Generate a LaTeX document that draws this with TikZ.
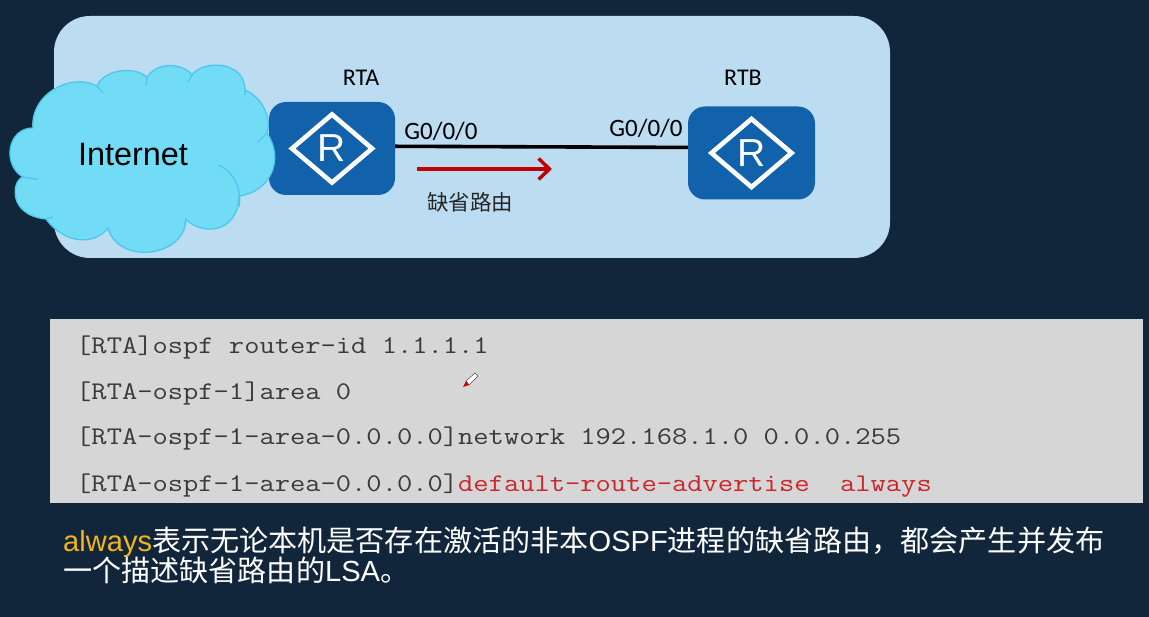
\documentclass[tikz,border=0pt]{standalone}
\usepackage{fontspec}
\setmainfont{Liberation Sans}
\newfontfamily\codefont[FakeStretch=1.168]{Latin Modern Mono}
\newfontfamily\cjk{Noto Sans CJK SC}
\newfontfamily\carlito{Carlito}
\usetikzlibrary{arrows.meta,positioning,shapes.geometric}
\definecolor{bgnavy}{HTML}{12263B}
\definecolor{panelblue}{HTML}{BBDCF1}
\definecolor{routerblue}{HTML}{1162AB}
\definecolor{cloudfill}{HTML}{72DCF6}
\definecolor{cloudline}{HTML}{4CC8EC}
\definecolor{codegray}{HTML}{D6D6D6}
\definecolor{codetext}{HTML}{3A3A3A}
\definecolor{codered}{HTML}{C9252B}
\definecolor{arrowred}{HTML}{C00000}
\definecolor{alwaysorange}{HTML}{F2B41B}
\tikzset{
  routerbox/.style={draw=none,fill=routerblue,rounded corners=17pt,minimum width=126pt,minimum height=93pt,inner sep=0pt},
  routermark/.style={diamond,draw=white,line width=4.6pt,minimum width=82pt,minimum height=70pt,inner sep=0pt,text=white,font=\fontsize{39}{39}\selectfont},
  devlabel/.style={inner sep=0pt,text=black,font=\carlito\fontsize{24}{24}\selectfont},
  codeline/.style={anchor=base west,inner sep=0pt,text=codetext,font=\codefont\fontsize{25.4}{26}\selectfont},
  noteline/.style={anchor=base west,inner sep=0pt,text=white,font=\fontsize{29.1}{30}\selectfont},
}
\begin{document}
\begin{tikzpicture}[x=1pt,y=-1pt]
\fill[bgnavy] (0,0) rectangle (1149,617);
\useasboundingbox (0,0) rectangle (1149,617);
%%%%% top panel:
\fill[panelblue,rounded corners=36pt] (54,16) rectangle (890,258);
\node[routerbox] (rta) at (332,148.5) {};
\node[routerbox,minimum width=127pt] (rtb) at (751.5,153) {};
\node[routermark] (rtamark) at (rta) {R};
\node[routermark] (rtbmark) at (rtb) {R};
\node[devlabel] (rtalabel) at (361,78) {RTA};
\node[devlabel] (rtblabel) at (743,78) {RTB};
\draw[black,line width=3.6pt] (rta.2) -- (rtb.175.5);
\node[devlabel,font=\carlito\fontsize{25}{25}\selectfont] (rtaport) at (441,131) {G0/0/0};
\node[devlabel,font=\carlito\fontsize{25}{25}\selectfont] (rtbport) at (646,128) {G0/0/0};
%%%%% default route arrow:
\coordinate (arrowstart) at (417,169);
\coordinate (arrowend) at (552,169);
\draw[arrowred,line width=3.4pt,-{Straight Barb[length=11pt,width=21pt,line width=3.4pt]}] (arrowstart) -- (arrowend);
\node[inner sep=0pt,text=black!85,font=\cjk\fontsize{21.5}{22}\selectfont] (routelabel) at (470,202) {缺省路由};
%%%%% cloud:
\draw[fill=cloudfill,draw=cloudline,line width=1.3pt]
  (33,128) .. controls (30,95) and (70,72) .. (97,86)
  .. controls (105,67) and (140,67) .. (147,78)
  .. controls (155,62) and (182,62) .. (192,75)
  .. controls (202,60) and (245,60) .. (245,90)
  .. controls (262,97) and (272,118) .. (267,133)
  .. controls (285,160) and (270,192) .. (239,196)
  .. controls (238,235) and (200,235) .. (186,219)
  .. controls (185,258) and (118,265) .. (108,228)
  .. controls (95,245) and (65,245) .. (46,219)
  .. controls (7,215) and (12,180) .. (23,177)
  .. controls (2,165) and (7,128) .. (33,128) -- cycle;
\draw[cloudline,line width=1.3pt] (97,86) -- (103,93) (147,78) -- (146,85) (192,75) -- (188,82);
\draw[cloudline,line width=1.3pt] (245,90) -- (245,95) (267,133) -- (257,143) (186,219) -- (185,224);
\draw[cloudline,line width=1.3pt] (108,228) -- (110,233) (46,219) -- (53,217) (23,177) .. controls (28,178) and (33,179) .. (38,179);
\draw[cloudline,line width=1.3pt] (218,165) .. controls (235,172) and (242,190) .. (239,207);
\node[inner sep=0pt,text=black,font=\fontsize{32.4}{33}\selectfont] (internet) at (133,155) {Internet};
%%%%% code box:
\fill[codegray] (50,319) rectangle (1143,503);
\node[codeline] (codea) at (76,354) {[RTA]ospf router-id 1.1.1.1};
\node[codeline] (codeb) at (76,400) {[RTA-ospf-1]area 0};
\node[codeline] (codec) at (76,445) {[RTA-ospf-1-area-0.0.0.0]network 192.168.1.0 0.0.0.255};
\node[codeline] (coded) at (76,491) {[RTA-ospf-1-area-0.0.0.0]\textcolor{codered}{default-route-advertise\ \ always}};
% pen cursor
\fill[white,draw=black!70,line width=.5pt] (466,381) -- (475,373) -- (478,376) -- (469,385) -- cycle;
\fill[red!80!black] (463,387) -- (466,381) -- (469,385) -- cycle;
%%%%% note:
\node[noteline] (notea) at (63,551) {\textcolor{alwaysorange}{always}{\cjk 表示无论本机是否存在激活的非本}OSPF{\cjk 进程的缺省路由，都会产生并发布}};
\node[noteline] (noteb) at (63,581) {{\cjk 一个描述缺省路由的}LSA{\cjk 。}};
\end{tikzpicture}
\end{document}
